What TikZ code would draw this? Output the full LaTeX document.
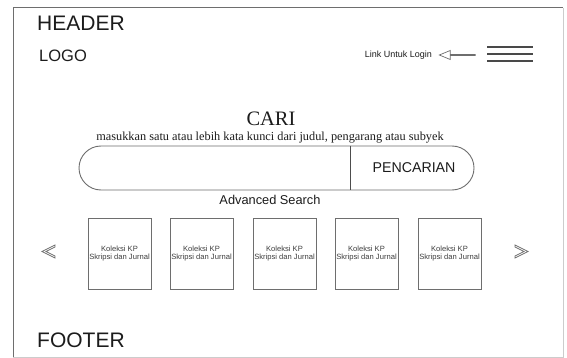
\documentclass[tikz,border=0pt]{standalone}
\usepackage{fontspec}
\setmainfont{Liberation Sans}
\newfontfamily\timesfont{Liberation Serif}
\usetikzlibrary{positioning,shapes.arrows}
\definecolor{garis}{HTML}{6E6E6E}
\definecolor{teks}{HTML}{1C1C1C}

\begin{document}
\begin{tikzpicture}[x=1pt,y=-1pt,
    judul/.style={font=\fontsize{21}{24}\selectfont,text=teks,anchor=base west,inner sep=0pt},
    kecil/.style={inner sep=0pt,text=teks},
    koleksi/.style={draw=garis,line width=0.9pt,minimum width=63pt,minimum height=71pt,inner sep=0pt,
        align=center,font=\fontsize{7.6}{8.6}\selectfont,text=teks!85},
    panah/.style={single arrow,draw=garis,line width=0.7pt,shape border rotate=180,minimum height=36pt,
        minimum width=9pt,single arrow head extend=2.5pt,single arrow tip angle=45,inner sep=0pt},
    geser/.style={draw=garis,line width=0.7pt,line join=miter}
]

\useasboundingbox (0,0) rectangle (567,358);
\fill[white] (0,0) rectangle (567,358);
\draw[garis!35,line width=0.8pt] (563,8) -- (563,357) -- (13,357);
\draw[garis,line width=1pt] (13,357) -- (13,8) -- (563,8);

\node[judul] (header) at (37,30.5) {HEADER};
\node[judul,font=\fontsize{16.5}{18}\selectfont] (logo) at (39,61.5) {LOGO};
\node[kecil,font=\fontsize{9}{10}\selectfont,anchor=east] (login) at (432,55) {Link Untuk Login};
\node[panah] (panahlogin) at (458,55) {};
\foreach \y in {47,54,61}
    \draw[line width=2pt,teks!80] (487,\y) -- (533,\y);

\node[kecil,font=\timesfont\fontsize{20.5}{24}\selectfont,anchor=base] (cari) at (271,126) {CARI};
\node[kecil,font=\timesfont\fontsize{12.3}{14}\selectfont,anchor=base] (petunjuk) at (270,140.5) {masukkan satu atau lebih kata kunci dari judul, pengarang atau subyek};

\node[draw=garis,line width=0.9pt,rounded corners=22pt,minimum width=395pt,minimum height=44pt,inner sep=0pt] (kotakcari) at (276.5,168) {};
\draw[garis!70!black,line width=0.9pt] (kotakcari.north -| 350,0) -- (kotakcari.south -| 350,0);
\node[kecil,font=\fontsize{14.2}{16}\selectfont] (pencarian) at (414,168) {PENCARIAN};
\node[kecil,font=\fontsize{12.8}{15}\selectfont] (advanced) at (270,200) {Advanced Search};

\foreach \i/\x in {1/119.5,2/201.5,3/284.5,4/366.5,5/449.5}
    \node[koleksi] (buku\i) at (\x,253.5) {Koleksi KP\\Skripsi dan Jurnal};

\coordinate (kiri) at (48,251.5);
\coordinate (kanan) at (522,251.5);
\draw[geser] ([xshift=-6pt]kiri) -- ++(13,-6.5) -- ++(0,2) -- ++(-9,4.5) -- ++(9,4.5) -- ++(0,2) -- cycle;
\draw[geser] ([xshift=6pt]kanan) -- ++(-13,-6.5) -- ++(0,2) -- ++(9,4.5) -- ++(-9,4.5) -- ++(0,2) -- cycle;

\node[judul] (footer) at (37,347) {FOOTER};

\end{tikzpicture}
\end{document}
